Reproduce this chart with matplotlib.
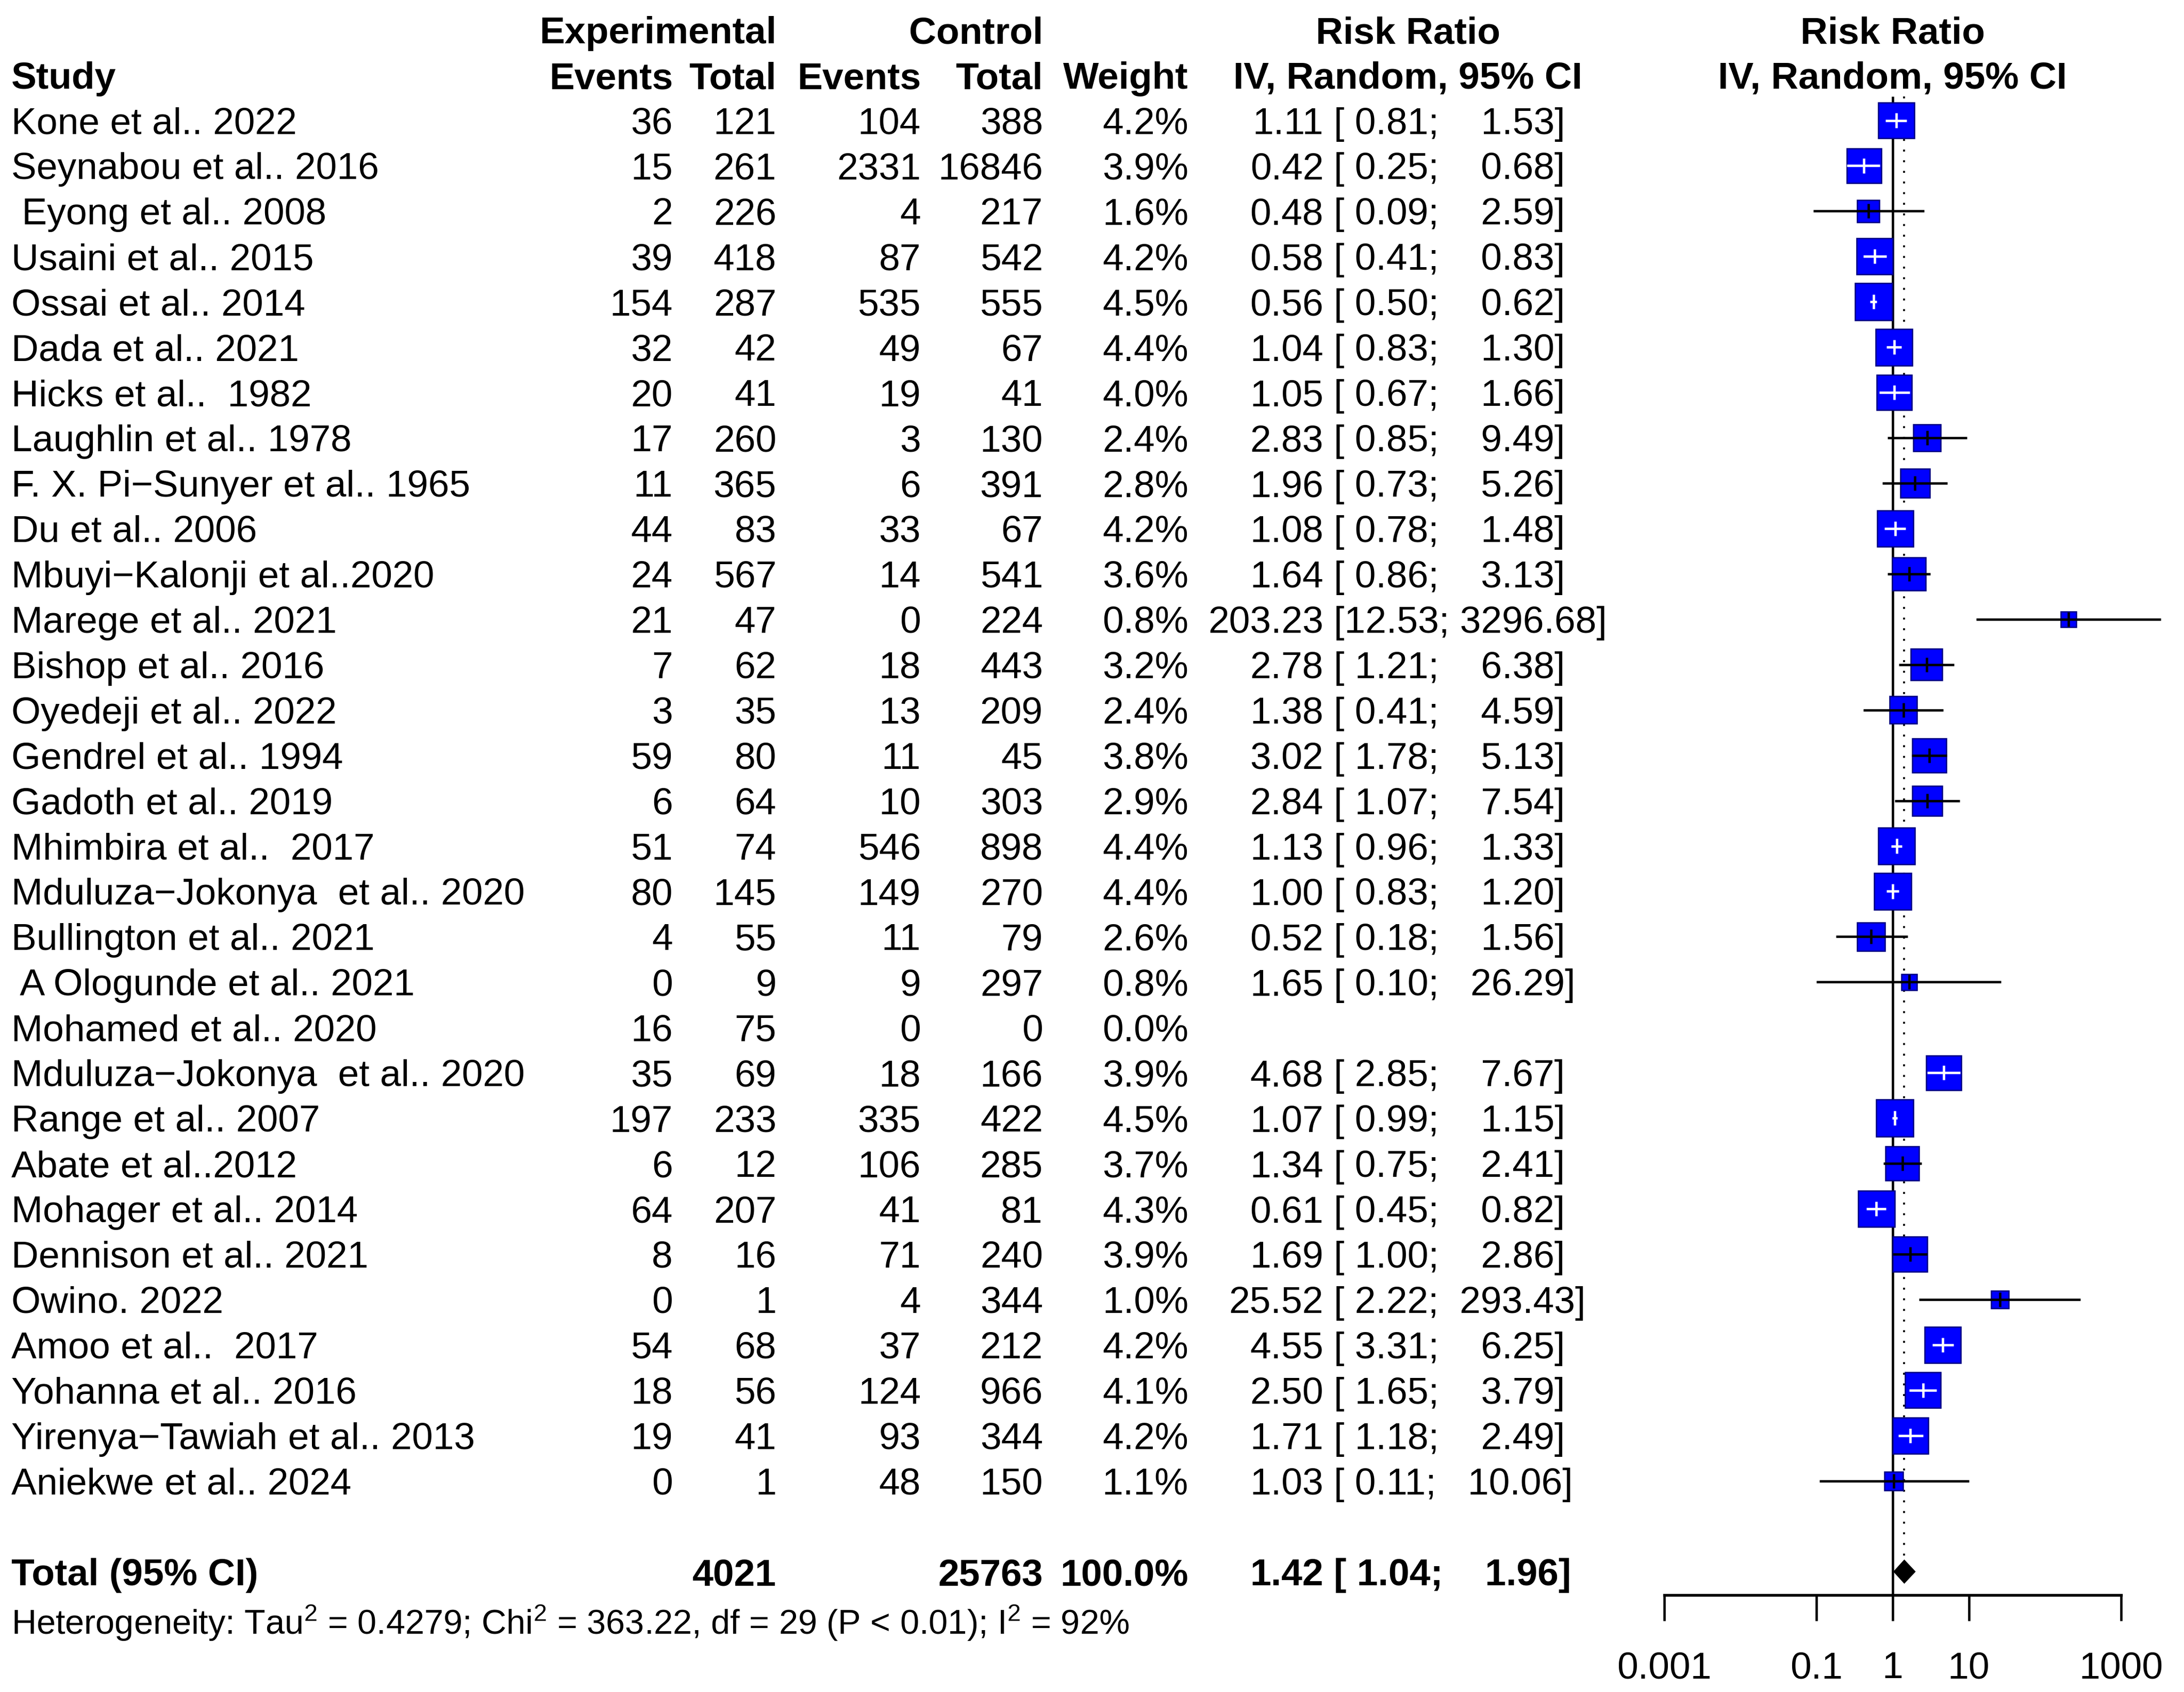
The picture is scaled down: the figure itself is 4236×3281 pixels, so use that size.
import matplotlib
matplotlib.use("Agg")
import matplotlib.pyplot as plt
from matplotlib.patches import Rectangle, Polygon
import numpy as np

plt.rcParams['font.family'] = ['Liberation Sans', 'DejaVu Sans']
plt.rcParams['mathtext.fontset'] = 'custom'
plt.rcParams['mathtext.rm'] = 'Liberation Sans'
plt.rcParams['mathtext.it'] = 'Liberation Sans:italic'
plt.rcParams['mathtext.bf'] = 'Liberation Sans:bold'

# ---------------- data ----------------
studies = ["Kone et al.. 2022", "Seynabou et al.. 2016", " Eyong et al.. 2008",
           "Usaini et al.. 2015", "Ossai et al.. 2014", "Dada et al.. 2021",
           "Hicks et al..  1982", "Laughlin et al.. 1978", "F. X. Pi\u2212Sunyer et al.. 1965",
           "Du et al.. 2006", "Mbuyi\u2212Kalonji et al..2020", "Marege et al.. 2021",
           "Bishop et al.. 2016", "Oyedeji et al.. 2022", "Gendrel et al.. 1994",
           "Gadoth et al.. 2019", "Mhimbira et al..  2017", "Mduluza\u2212Jokonya  et al.. 2020",
           "Bullington et al.. 2021", " A Ologunde et al.. 2021", "Mohamed et al.. 2020",
           "Mduluza\u2212Jokonya  et al.. 2020", "Range et al.. 2007", "Abate et al..2012",
           "Mohager et al.. 2014", "Dennison et al.. 2021", "Owino. 2022",
           "Amoo et al..  2017", "Yohanna et al.. 2016", "Yirenya\u2212Tawiah et al.. 2013",
           "Aniekwe et al.. 2024"]
exp_events = [36, 15, 2, 39, 154, 32, 20, 17, 11, 44, 24, 21, 7, 3, 59, 6, 51, 80, 4, 0,
              16, 35, 197, 6, 64, 8, 0, 54, 18, 19, 0]
exp_total = [121, 261, 226, 418, 287, 42, 41, 260, 365, 83, 567, 47, 62, 35, 80, 64, 74,
             145, 55, 9, 75, 69, 233, 12, 207, 16, 1, 68, 56, 41, 1]
ctl_events = [104, 2331, 4, 87, 535, 49, 19, 3, 6, 33, 14, 0, 18, 13, 11, 10, 546, 149,
              11, 9, 0, 18, 335, 106, 41, 71, 4, 37, 124, 93, 48]
ctl_total = [388, 16846, 217, 542, 555, 67, 41, 130, 391, 67, 541, 224, 443, 209, 45, 303,
             898, 270, 79, 297, 0, 166, 422, 285, 81, 240, 344, 212, 966, 344, 150]
weights = [4.2, 3.9, 1.6, 4.2, 4.5, 4.4, 4.0, 2.4, 2.8, 4.2, 3.6, 0.8, 3.2, 2.4, 3.8, 2.9,
           4.4, 4.4, 2.6, 0.8, 0.0, 3.9, 4.5, 3.7, 4.3, 3.9, 1.0, 4.2, 4.1, 4.2, 1.1]
rr = [1.11, 0.42, 0.48, 0.58, 0.56, 1.04, 1.05, 2.83, 1.96, 1.08, 1.64, 203.23, 2.78, 1.38,
      3.02, 2.84, 1.13, 1.00, 0.52, 1.65, None, 4.68, 1.07, 1.34, 0.61, 1.69, 25.52, 4.55,
      2.50, 1.71, 1.03]
rr_lo = [0.81, 0.25, 0.09, 0.41, 0.50, 0.83, 0.67, 0.85, 0.73, 0.78, 0.86, 12.53, 1.21, 0.41,
         1.78, 1.07, 0.96, 0.83, 0.18, 0.10, None, 2.85, 0.99, 0.75, 0.45, 1.00, 2.22, 3.31,
         1.65, 1.18, 0.11]
rr_hi = [1.53, 0.68, 2.59, 0.83, 0.62, 1.30, 1.66, 9.49, 5.26, 1.48, 3.13, 3296.68, 6.38,
         4.59, 5.13, 7.54, 1.33, 1.20, 1.56, 26.29, None, 7.67, 1.15, 2.41, 0.82, 2.86,
         293.43, 6.25, 3.79, 2.49, 10.06]
total_exp = 4021
total_ctl = 25763
total_rr, total_lo, total_hi = 1.42, 1.04, 1.96
het_text = ("Heterogeneity: Tau$^2$ = 0.4279; Chi$^2$ = 363.22, df = 29 (P < 0.01); "
            "I$^2$ = 92%")
tick_vals = [0.001, 0.1, 1, 10, 1000]
tick_labels = ["0.001", "0.1", "1", "10", "1000"]

# ---------------- layout ----------------
W, H = 4236, 3281
DPI = 300
FS = 17.6
ROW0, ROWH = 233.5, 87.94
AX_TOP, AX_BOT = 150.0, 3093.0
FX0 = 3100.0
X_001, X_1000 = 3228.0, 4114.0
PPD = (X_1000 - X_001) / 6.0
X_FC = (X_001 + X_1000) / 2

fig = plt.figure(figsize=(W / DPI, H / DPI), dpi=DPI)
axt = fig.add_axes([0, 0, 1, 1])
axt.set_xlim(0, W)
axt.set_ylim(H, 0)
axt.axis('off')


def ry(i):
    return ROW0 + ROWH * i


X_STUDY = 22
X_EE, X_ET, X_CE, X_CT, X_W = 1305, 1506, 1786, 2023, 2305
X_EST = 2567
X_CI = 2587
X_RRC = 2731

# headers
hy1, hy2 = ry(-2), ry(-1)
kw = dict(fontsize=FS, va='center_baseline', fontweight='bold')
axt.text(X_ET, hy1, "Experimental", ha='right', **kw)
axt.text(X_CT, hy1, "Control", ha='right', **kw)
axt.text(X_RRC, hy1, "Risk Ratio", ha='center', **kw)
axt.text(X_FC, hy1, "Risk Ratio", ha='center', **kw)
axt.text(X_STUDY, hy2, "Study", ha='left', **kw)
axt.text(X_EE, hy2, "Events", ha='right', **kw)
axt.text(X_ET, hy2, "Total", ha='right', **kw)
axt.text(X_CE, hy2, "Events", ha='right', **kw)
axt.text(X_CT, hy2, "Total", ha='right', **kw)
axt.text(X_W, hy2, "Weight", ha='right', **kw)
axt.text(X_RRC, hy2, "IV, Random, 95% CI", ha='center', **kw)
axt.text(X_FC, hy2, "IV, Random, 95% CI", ha='center', **kw)

# rows
kn = dict(fontsize=FS, va='center_baseline')
for i, name in enumerate(studies):
    y = ry(i)
    axt.text(X_STUDY, y, name, ha='left', **kn)
    axt.text(X_EE, y, str(exp_events[i]), ha='right', **kn)
    axt.text(X_ET, y, str(exp_total[i]), ha='right', **kn)
    axt.text(X_CE, y, str(ctl_events[i]), ha='right', **kn)
    axt.text(X_CT, y, str(ctl_total[i]), ha='right', **kn)
    axt.text(X_W, y, f"{weights[i]:.1f}%", ha='right', **kn)
    if rr[i] is not None:
        axt.text(X_EST, y, f"{rr[i]:.2f}", ha='right', **kn)
        axt.text(X_CI, y, f"[{rr_lo[i]:>5.2f}; {rr_hi[i]:>7.2f}]", ha='left', **kn)

# total row
ti = len(studies) + 1
yt = ry(ti)
axt.text(X_STUDY, yt, "Total (95% CI)", ha='left', **kw)
axt.text(X_ET, yt, str(total_exp), ha='right', **kw)
axt.text(X_CT, yt, str(total_ctl), ha='right', **kw)
axt.text(X_W, yt, "100.0%", ha='right', **kw)
axt.text(X_EST, yt, f"{total_rr:.2f}", ha='right', **kw)
axt.text(X_CI, yt, f"[{total_lo:>5.2f}; {total_hi:>7.2f}]", ha='left', **kw)
axt.text(X_STUDY, 3139, het_text, ha='left', va='center_baseline', fontsize=16.0)

# ---------------- forest panel ----------------
axf = fig.add_axes([FX0 / W, 1 - AX_BOT / H, (W - FX0) / W, (AX_BOT - AX_TOP) / H])
axf.patch.set_alpha(0)
axf.set_xscale('log')
lx0 = -3 - (X_001 - FX0) / PPD
lx1 = 3 + (W - X_1000) / PPD
axf.set_xlim(10 ** lx0, 10 ** lx1)
axf.set_ylim((AX_BOT - ROW0) / ROWH, (AX_TOP - ROW0) / ROWH)
for s in ['left', 'top', 'right']:
    axf.spines[s].set_visible(False)
axf.spines['bottom'].set_bounds(0.001, 1000)
axf.spines['bottom'].set_linewidth(1.3)
axf.set_yticks([])
axf.xaxis.set_minor_locator(matplotlib.ticker.NullLocator())
axf.set_xticks(tick_vals)
axf.set_xticklabels(tick_labels)
axf.tick_params(axis='x', direction='out', length=12, width=1.1, pad=14.2, labelsize=FS)

top_row = (187 - ROW0) / ROWH
ybot = (AX_BOT - ROW0) / ROWH
axf.plot([1, 1], [top_row, ybot], color='black', lw=1.1, solid_capstyle='butt', zorder=1)
axf.plot([total_rr, total_rr], [top_row, ti - 0.25], color='black', lw=0.9,
         linestyle=(0, (1, 4.5)), zorder=1)

BOX45 = 72.1
for i in range(len(studies)):
    if rr[i] is None:
        continue
    side = BOX45 * np.sqrt(weights[i] / 4.5)
    hw = side / 2 / PPD
    hs = side / 2 / ROWH
    x0 = rr[i] * 10 ** (-hw)
    x1 = rr[i] * 10 ** (hw)
    axf.add_patch(Rectangle((x0, i - hs), x1 - x0, 2 * hs, facecolor='#0000FF',
                            edgecolor='#000080', lw=0.6, zorder=3))
    inside = rr_lo[i] >= x0 and rr_hi[i] <= x1
    col = 'white' if inside else 'black'
    axf.plot([rr_lo[i], rr_hi[i]], [i, i], color=col, lw=1.1, solid_capstyle='butt',
             zorder=4, clip_on=False)
    axf.plot([rr[i], rr[i]], [i - 0.16, i + 0.16], color=col, lw=1.1,
             solid_capstyle='butt', zorder=4)

axf.add_patch(Polygon([(total_lo, ti), (total_rr, ti - 0.25), (total_hi, ti),
                       (total_rr, ti + 0.25)], closed=True, facecolor='black',
                      edgecolor='black', lw=0.5, zorder=4))

axf.set_zorder(2)
fig.savefig("out.png", dpi=DPI)
